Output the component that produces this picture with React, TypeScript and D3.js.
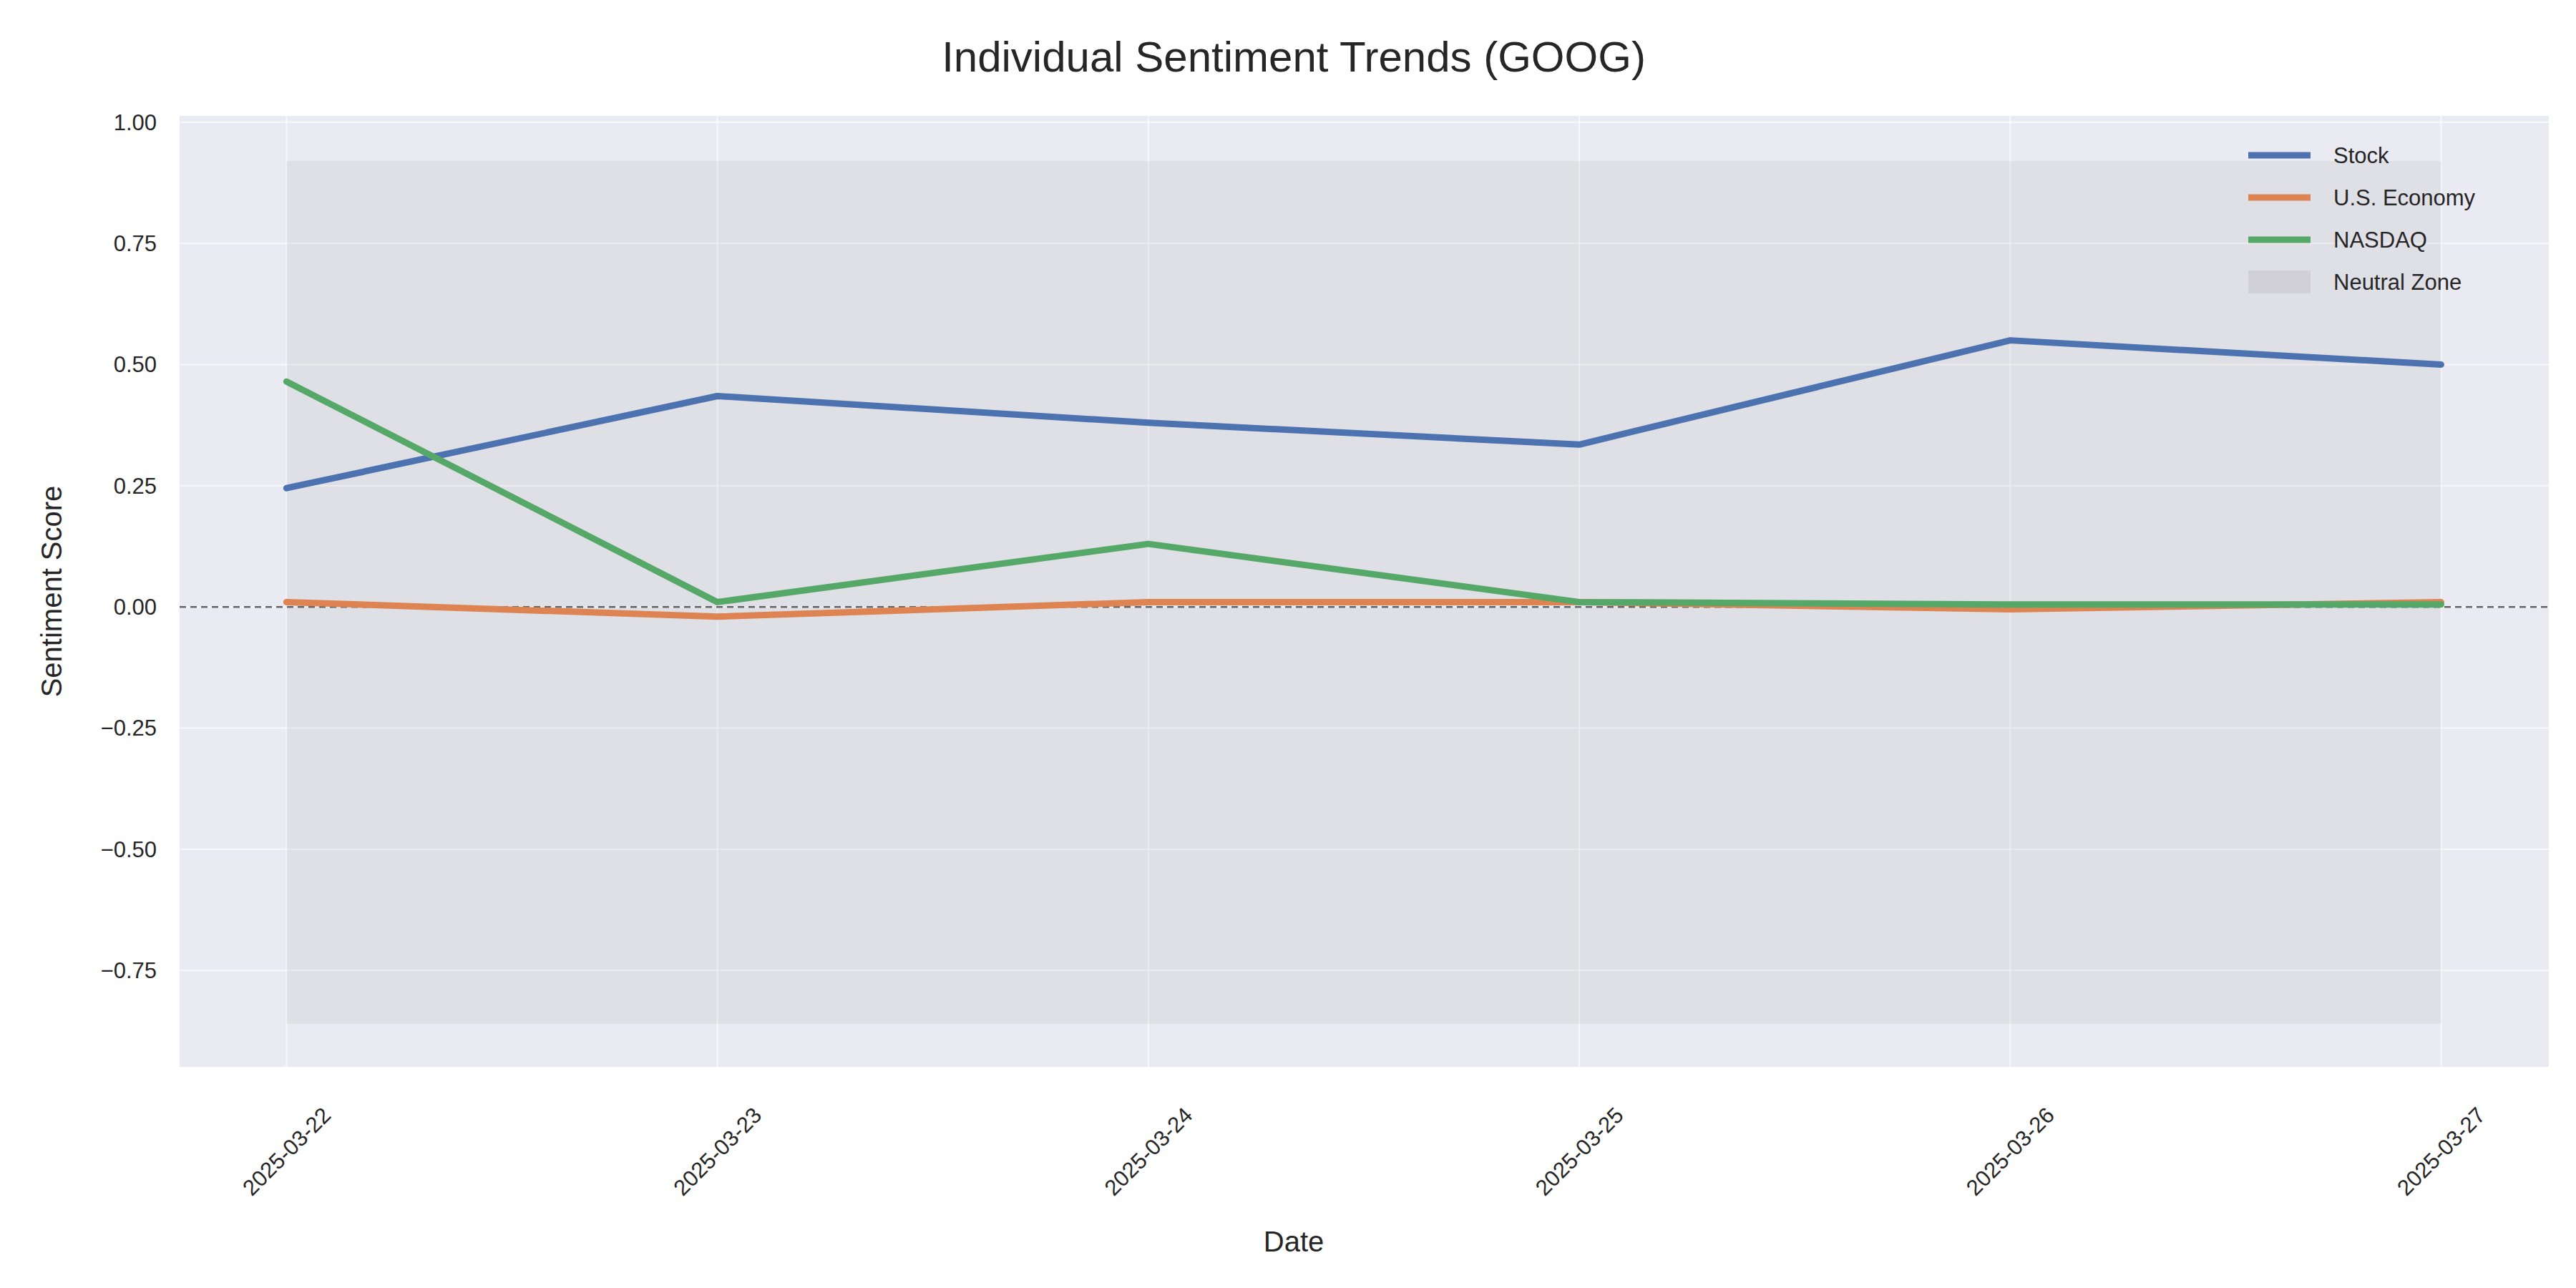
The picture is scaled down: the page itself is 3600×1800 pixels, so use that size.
import React from 'react';
import * as d3 from 'd3';

const DATES = ['2025-03-22', '2025-03-23', '2025-03-24', '2025-03-25', '2025-03-26', '2025-03-27'];
const STOCK = [0.245, 0.435, 0.38, 0.335, 0.55, 0.5];
const ECONOMY = [0.01, -0.02, 0.01, 0.01, -0.005, 0.01];
const NASDAQ = [0.465, 0.01, 0.13, 0.01, 0.005, 0.005];
const Y_TICKS = [1, 0.75, 0.5, 0.25, 0, -0.25, -0.5, -0.75];
const NEUTRAL = [-0.86, 0.92];

const SERIES = [
  { name: 'Stock', values: STOCK, color: '#4c72b0' },
  { name: 'U.S. Economy', values: ECONOMY, color: '#dd8452' },
  { name: 'NASDAQ', values: NASDAQ, color: '#55a868' },
];

const W = 3600, H = 1800;
const m = { left: 243, right: 3554, top: 154, bottom: 1483 };
const FONT = 'Liberation Sans, Arial, sans-serif';

export default function App() {
  const x = d3.scaleLinear().domain([-0.248, 5.25]).range([m.left, m.right]);
  const y = d3.scaleLinear().domain([-0.949, 1.013]).range([m.bottom, m.top]);
  const line = d3.line<number>().x((_, i) => x(i)).y(d => y(d));
  const fmt = (v: number) => (v < 0 ? '\u2212' : '') + Math.abs(v).toFixed(2);

  return (
    <svg width={W} height={H} style={{ display: 'block', background: '#fff' }} fontFamily={FONT}>
      <rect x={m.left} y={m.top} width={m.right - m.left} height={m.bottom - m.top} fill="#eaeaf2" />
      {Y_TICKS.map(t => (
        <line key={t} x1={m.left} x2={m.right} y1={y(t)} y2={y(t)} stroke="#fff" strokeWidth={2} opacity={0.7} />
      ))}
      {DATES.map((d, i) => (
        <line key={d} x1={x(i)} x2={x(i)} y1={m.top} y2={m.bottom} stroke="#fff" strokeWidth={2} opacity={0.7} />
      ))}
      <rect x={x(0)} y={y(NEUTRAL[1])} width={x(5) - x(0)} height={y(NEUTRAL[0]) - y(NEUTRAL[1])} fill="#808080" opacity={0.1} />
      <line x1={m.left} x2={m.right} y1={y(0)} y2={y(0)} stroke="#666" strokeWidth={2.5} strokeDasharray="9,6" />
      {SERIES.map(s => (
        <path key={s.name} d={line(s.values)!} fill="none" stroke={s.color} strokeWidth={9} strokeLinejoin="round" strokeLinecap="round" />
      ))}
      {Y_TICKS.map(t => (
        <text key={t} x={211} y={y(t)} dy="0.35em" textAnchor="end" fontSize={31} fill="#262626">{fmt(t)}</text>
      ))}
      {DATES.map((d, i) => (
        <text key={d} transform={`translate(${x(i)},${m.bottom + 118}) rotate(-45)`} textAnchor="middle" dy="0.35em" fontSize={31} fill="#262626">{d}</text>
      ))}
      <text x={W / 2} y={1727} textAnchor="middle" dy="0.35em" fontSize={40} fill="#262626">Date</text>
      <text transform={`translate(64,${(m.top + m.bottom) / 2}) rotate(-90)`} textAnchor="middle" dy="0.35em" fontSize={40} fill="#262626">Sentiment Score</text>
      <text x={W / 2} y={71} textAnchor="middle" dy="0.35em" fontSize={60} fill="#262626">Individual Sentiment Trends (GOOG)</text>
      <g>
        {SERIES.map((s, i) => (
          <g key={s.name} transform={`translate(0,${209 + i * 59})`}>
            <line x1={3134} x2={3221} stroke={s.color} strokeWidth={9} />
            <text x={3253} dy="0.35em" fontSize={31} fill="#262626">{s.name}</text>
          </g>
        ))}
        <g transform={`translate(0,${209 + 3 * 59})`}>
          <rect x={3134} y={-16} width={87} height={32} fill="#808080" opacity={0.15} />
          <text x={3253} dy="0.35em" fontSize={31} fill="#262626">Neutral Zone</text>
        </g>
      </g>
    </svg>
  );
}
